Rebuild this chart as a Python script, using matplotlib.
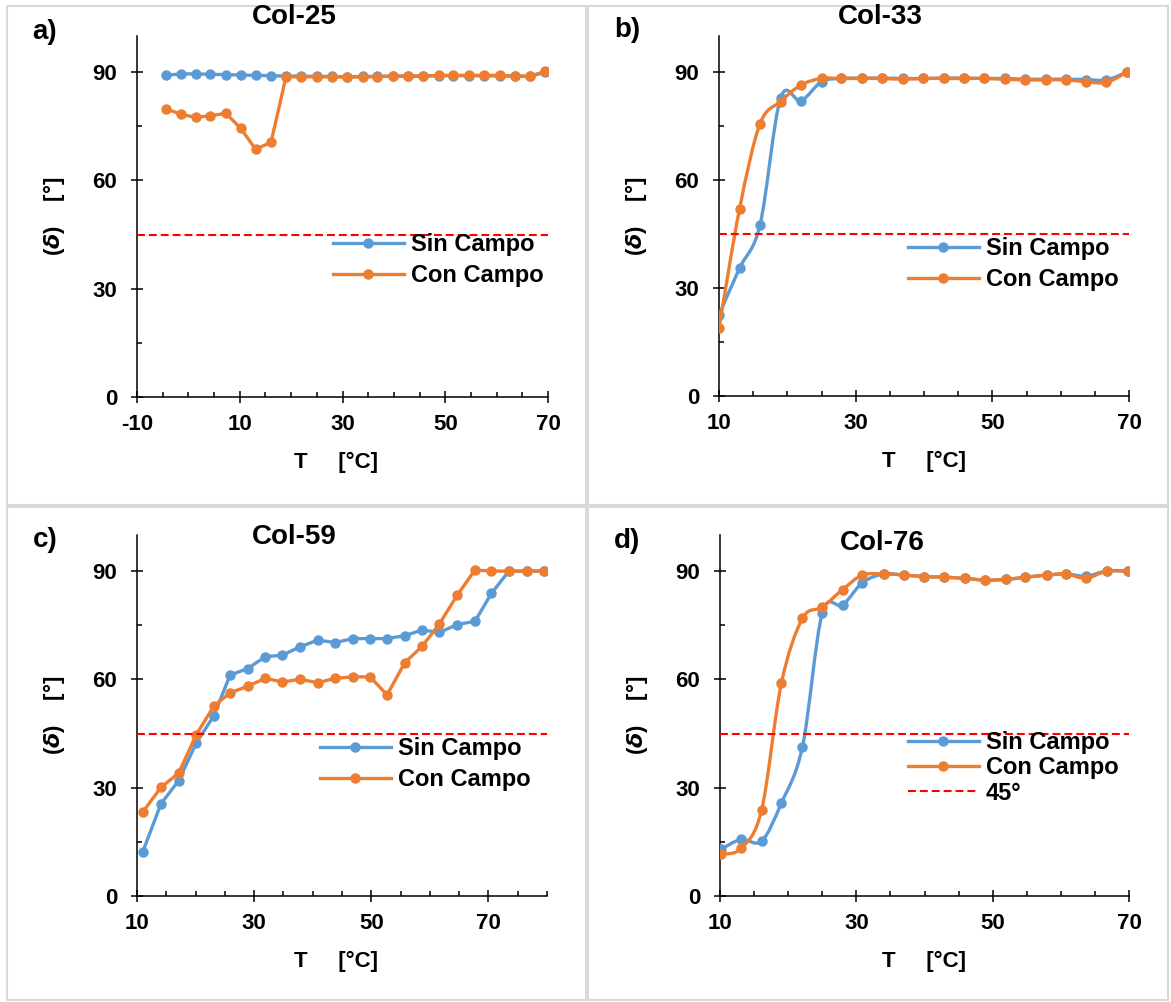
import numpy as np
import matplotlib.pyplot as plt
from matplotlib.path import Path
from matplotlib.patches import PathPatch, Rectangle
from matplotlib.lines import Line2D

plt.rcParams['font.family'] = ['Liberation Sans', 'DejaVu Sans']
plt.rcParams['font.weight'] = 'bold'
plt.rcParams['axes.unicode_minus'] = False

# --- datos de cada panel ---
t_a = [-4.4, -1.5, 1.4, 4.3, 7.3, 10.2, 13.1, 16.1, 19.0, 22.0, 25.0, 28.0, 30.9,
       33.9, 36.8, 39.8, 42.8, 45.7, 48.7, 51.6, 54.6, 57.6, 60.6, 63.5, 66.5, 69.5]
sin_a = [89.1, 89.5, 89.5, 89.4, 89.3, 89.2, 89.1, 89.0, 88.9, 88.9, 88.8, 88.8, 88.7,
         88.8, 88.8, 88.9, 88.9, 88.9, 89.0, 89.0, 89.0, 89.0, 88.9, 88.9, 88.8, 90.0]
con_a = [79.9, 78.3, 77.5, 77.9, 78.6, 74.4, 68.6, 70.6, 88.7, 88.7, 88.7, 88.7, 88.6,
         88.7, 88.7, 88.9, 88.9, 88.9, 89.1, 89.1, 89.1, 89.1, 89.1, 88.9, 88.9, 90.2]

t_b = [10.0, 13.0, 16.0, 19.0, 22.0, 25.0, 27.9, 30.9, 33.9, 36.9, 39.9, 42.9, 45.9,
       48.8, 51.8, 54.8, 57.8, 60.8, 63.7, 66.7, 69.7]
sin_b = [22.5, 35.5, 47.5, 82.7, 82.0, 87.3, 88.2, 88.3, 88.3, 88.2, 88.2, 88.3, 88.3,
         88.2, 88.2, 88.0, 88.0, 88.0, 87.9, 87.8, 90.0]
con_b = [18.8, 51.9, 75.6, 81.8, 86.4, 88.2, 88.2, 88.2, 88.2, 88.0, 88.2, 88.2, 88.2,
         88.2, 88.0, 87.8, 87.8, 87.8, 87.3, 87.1, 90.0]

t_c = [11.0, 14.1, 17.1, 20.1, 23.1, 25.9, 28.9, 31.9, 34.8, 37.8, 40.9, 43.8, 46.8,
       49.8, 52.7, 55.7, 58.7, 61.6, 64.7, 67.7, 70.5, 73.5, 76.5, 79.5]
sin_c = [12.3, 25.6, 31.9, 42.3, 49.9, 61.2, 63.0, 66.3, 66.7, 69.0, 70.9, 70.2, 71.3,
         71.3, 71.3, 72.1, 73.7, 73.0, 75.2, 76.1, 83.8, 90.0, 90.0, 90.0]
con_c = [23.3, 30.1, 34.0, 44.6, 52.6, 56.3, 58.1, 60.3, 59.3, 60.0, 59.1, 60.3, 60.7,
         60.7, 55.7, 64.6, 69.2, 75.3, 83.4, 90.3, 90.0, 90.0, 90.0, 90.0]

t_d = [10.1, 13.1, 16.1, 19.0, 22.1, 25.0, 28.0, 30.9, 34.0, 37.0, 39.9, 42.9, 45.9,
       48.9, 51.9, 54.8, 57.9, 60.8, 63.7, 66.7, 69.9]
sin_d = [12.9, 15.7, 15.2, 25.7, 41.4, 78.3, 80.6, 86.8, 89.2, 88.9, 88.5, 88.3, 88.0,
         87.5, 87.7, 88.3, 88.9, 89.2, 88.6, 90.0, 90.0]
con_d = [11.6, 13.2, 23.8, 58.9, 76.9, 80.0, 84.9, 88.9, 89.2, 88.9, 88.5, 88.3, 88.0,
         87.5, 87.7, 88.3, 88.9, 89.2, 88.0, 90.0, 90.0]

titulos = ['Col-25', 'Col-33', 'Col-59', 'Col-76']
letras = ['a)', 'b)', 'c)', 'd)']

AZUL = '#5B9BD5'
NARANJA = '#ED7D31'
W, H = 1171, 1002


def curva_suave(x, y):
    # curva tipo Excel (Bezier por Catmull-Rom) que pasa por los puntos
    n = len(x)
    verts = [(x[0], y[0])]
    codes = [Path.MOVETO]
    for i in range(n - 1):
        i0, i3 = max(i - 1, 0), min(i + 2, n - 1)
        c1 = (x[i] + (x[i + 1] - x[i0]) / 6, y[i] + (y[i + 1] - y[i0]) / 6)
        c2 = (x[i + 1] - (x[i3] - x[i]) / 6, y[i + 1] - (y[i3] - y[i]) / 6)
        verts += [c1, c2, (x[i + 1], y[i + 1])]
        codes += [Path.CURVE4] * 3
    return Path(verts, codes)


def serie(ax, x, y, color, suave):
    if suave:
        ax.add_patch(PathPatch(curva_suave(x, y), fill=False, ec=color, lw=2.4,
                               capstyle='round', joinstyle='round', zorder=3))
        ax.plot(x, y, 'o', color=color, ms=6.5, zorder=3)
    else:
        ax.plot(x, y, '-o', color=color, lw=2.4, ms=6.5, zorder=3)


def fig_box(x0, y0, x1, y1):
    return [x0 / W, 1 - y1 / H, (x1 - x0) / W, (y1 - y0) / H]


fig = plt.figure(figsize=(W / 100, H / 100), dpi=100)

# marcos grises de cada panel
for (x0, y0, x1, y1) in [(7, 6, 586, 505), (588, 6, 1168, 505),
                         (7, 507, 586, 1000), (588, 507, 1168, 1000)]:
    fig.patches.append(Rectangle((x0 / W, 1 - y1 / H), (x1 - x0) / W, (y1 - y0) / H,
                                 transform=fig.transFigure, fill=False,
                                 ec='#d9d9d9', lw=1.5))

paneles = [
    (fig_box(137, 36, 548, 397), t_a, sin_a, con_a, (-10, 70), False, 0.485),
    (fig_box(719, 36, 1129, 396), t_b, sin_b, con_b, (10, 70), True, 0.50),
    (fig_box(137, 535, 547, 896), t_c, sin_c, con_c, (10, 80), False, 0.485),
    (fig_box(720, 535, 1129, 896), t_d, sin_d, con_d, (10, 70), True, 0.50),
]

ejes = []
for k, (caja, t, s, c, xl, suave, xlab) in enumerate(paneles):
    ax = fig.add_axes(caja)
    ejes.append(ax)
    serie(ax, t, s, AZUL, suave)
    serie(ax, t, c, NARANJA, suave)
    ax.axhline(45, color='#FF0000', lw=1.5, ls=(0, (3.8, 1.9)), zorder=4)

    ax.set_xlim(*xl)
    ax.set_ylim(0, 100)
    ax.set_yticks([0, 30, 60, 90])
    ax.set_yticks(np.arange(0, 100, 15), minor=True)
    ax.set_xticks(np.arange(xl[0], xl[1] + 1, 20))
    ax.set_xticks(np.arange(xl[0], xl[1] + 1, 5), minor=True)
    for lado in ['top', 'right']:
        ax.spines[lado].set_visible(False)
    for lado in ['left', 'bottom']:
        ax.spines[lado].set_linewidth(1.1)
    ax.tick_params(which='major', direction='inout', length=8.6, width=1.1,
                   labelsize=16)
    ax.tick_params(which='minor', direction='in', length=3.8, width=1.1)
    ax.tick_params(axis='y', which='major', pad=10)
    ax.tick_params(axis='x', which='major', pad=8)
    for lab in ax.get_xticklabels() + ax.get_yticklabels():
        lab.set_fontweight('bold')

    ax.set_xlabel('T     [°C]', fontsize=16, fontweight='bold')
    ax.xaxis.set_label_coords(xlab, -0.152)
    ax.set_ylabel(r'($\delta$)    [°]', fontsize=16, fontweight='bold')
    ax.yaxis.set_label_coords(-0.17, 0.5)

# títulos y letras de los paneles
pos_titulo = [(294, 17), (880, 17), (294, 537), (882, 543)]
pos_letra = [(45, 32), (627, 30), (45, 540), (627, 541)]
for k in range(4):
    fig.text(pos_titulo[k][0] / W, 1 - pos_titulo[k][1] / H, titulos[k],
             fontsize=20, fontweight='bold', ha='center', va='center')
    fig.text(pos_letra[k][0] / W, 1 - pos_letra[k][1] / H, letras[k],
             fontsize=20, fontweight='bold', ha='center', va='center')

# leyendas
h_sin = Line2D([], [], color=AZUL, lw=2.4, marker='o', ms=6.5)
h_con = Line2D([], [], color=NARANJA, lw=2.4, marker='o', ms=6.5)
h_45 = Line2D([], [], color='#FF0000', lw=1.5, ls=(0, (3.8, 1.9)))
pos_leg = [(333, 233), (908, 237), (320, 737), (908, 731)]
for k, ax in enumerate(ejes):
    if k == 3:
        handles, labels, esp = [h_sin, h_con, h_45], ['Sin Campo', 'Con Campo', '45°'], 0.1
    else:
        handles, labels, esp = [h_sin, h_con], ['Sin Campo', 'Con Campo'], 0.35
    ax.legend(handles, labels, loc='upper left',
              bbox_to_anchor=(pos_leg[k][0] / W, 1 - pos_leg[k][1] / H),
              bbox_transform=fig.transFigure, frameon=False, borderpad=0,
              borderaxespad=0, handlelength=3.0, handletextpad=0.3,
              labelspacing=esp, prop={'size': 17, 'weight': 'bold'})

fig.savefig('out.png', dpi=100)
